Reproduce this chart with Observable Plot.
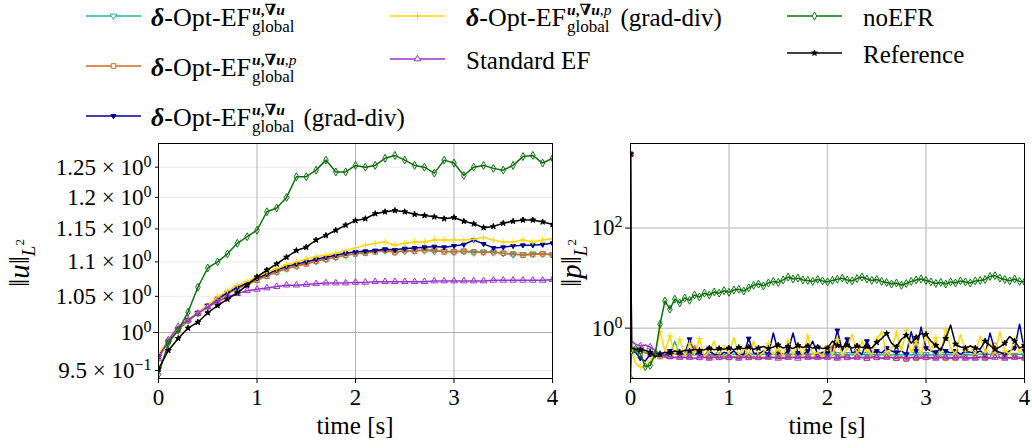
<!DOCTYPE html>
<html><head><meta charset="utf-8">
<script src="https://cdn.jsdelivr.net/npm/d3@7"></script>
<script src="https://cdn.jsdelivr.net/npm/@observablehq/plot@0.6"></script>
<style>
html,body{margin:0;padding:0;background:#fff;}
body{width:1032px;height:448px;overflow:hidden;position:relative;font-family:"Liberation Serif",serif;}
#legend{position:absolute;left:0;top:0;width:1032px;height:142px;z-index:2;}
#left{position:absolute;left:0;top:135px;z-index:1;}
#right{position:absolute;left:560px;top:135px;z-index:1;}
</style></head>
<body>
<div id="legend"></div>
<div id="left"></div>
<div id="right"></div>
<script>
// ---------- data ----------
const T = [0,0.1,0.2,0.3,0.4,0.5,0.6,0.7,0.8,0.9,1,1.1,1.2,1.3,1.4,1.5,1.6,1.7,1.8,1.9,2,2.1,2.2,2.3,2.4,2.5,2.6,2.7,2.8,2.9,3,3.1,3.2,3.3,3.4,3.5,3.6,3.7,3.8,3.9,4];

const TP = [0,0.01,
0.05,0.1,0.15,0.2,0.25,0.3,0.35,0.4,0.45,0.5,
0.55,0.6,0.65,0.7,0.75,0.8,0.85,0.9,0.95,1,
1.05,1.1,1.15,1.2,1.25,1.3,1.35,1.4,1.45,1.5,
1.55,1.6,1.65,1.7,1.75,1.8,1.85,1.9,1.95,2,
2.05,2.1,2.15,2.2,2.25,2.3,2.35,2.4,2.45,2.5,
2.55,2.6,2.65,2.7,2.75,2.8,2.85,2.9,2.95,3,
3.05,3.1,3.15,3.2,3.25,3.3,3.35,3.4,3.45,3.5,
3.55,3.6,3.65,3.7,3.75,3.8,3.85,3.9,3.95,4];

// ||u||_{L2}
const uOptU = [0.968,0.988,1.004,1.016,1.026,1.036,1.045,1.054,1.062,1.068,
1.074,1.080,1.085,1.090,1.094,1.098,1.101,1.104,1.107,1.110,
1.112,1.114,1.116,1.117,1.115,1.116,1.117,1.117,1.116,1.116,
1.115,1.116,1.114,1.115,1.114,1.113,1.111,1.111,1.112,1.112,1.111];
const uOptUP = [0.968,0.988,1.004,1.016,1.026,1.036,1.045,1.054,1.061,1.067,
1.073,1.079,1.085,1.090,1.094,1.097,1.101,1.104,1.107,1.110,
1.112,1.113,1.115,1.117,1.114,1.117,1.116,1.118,1.117,1.115,
1.115,1.116,1.115,1.114,1.115,1.113,1.112,1.110,1.111,1.112,1.110];
const uOptUgd = [0.968,0.988,1.005,1.017,1.027,1.037,1.047,1.055,1.063,1.069,
1.076,1.082,1.088,1.093,1.097,1.100,1.104,1.107,1.110,1.113,
1.115,1.116,1.117,1.119,1.118,1.120,1.121,1.122,1.123,1.122,
1.124,1.126,1.133,1.127,1.121,1.122,1.124,1.125,1.125,1.126,1.128];
const uOptUPgd = [0.972,0.990,1.006,1.017,1.027,1.037,1.049,1.058,1.066,1.071,
1.078,1.085,1.090,1.096,1.100,1.104,1.108,1.110,1.113,1.117,
1.121,1.125,1.128,1.130,1.125,1.128,1.130,1.130,1.133,1.133,
1.133,1.133,1.134,1.137,1.133,1.130,1.130,1.133,1.130,1.133,1.135];
const uStd = [0.965,0.990,1.008,1.017,1.026,1.035,1.043,1.049,1.054,1.058,
1.060,1.062,1.064,1.066,1.066,1.067,1.068,1.069,1.069,1.069,
1.070,1.070,1.071,1.071,1.071,1.071,1.071,1.071,1.072,1.072,
1.072,1.072,1.072,1.072,1.073,1.073,1.073,1.073,1.073,1.073,1.074];
const uNoEFR = [0.945,0.986,1.003,1.028,1.063,1.091,1.100,1.112,1.128,1.138,
1.148,1.177,1.183,1.200,1.234,1.234,1.245,1.262,1.242,1.242,
1.253,1.250,1.253,1.265,1.270,1.262,1.253,1.250,1.240,1.262,
1.257,1.236,1.250,1.253,1.248,1.245,1.253,1.268,1.270,1.257,1.265];
const uRef = [0.952,0.976,0.992,1.006,1.014,1.027,1.037,1.046,1.055,1.066,
1.078,1.088,1.097,1.107,1.117,1.122,1.133,1.140,1.148,1.156,
1.163,1.166,1.174,1.177,1.179,1.177,1.173,1.171,1.169,1.166,
1.168,1.162,1.158,1.152,1.154,1.159,1.162,1.164,1.164,1.161,1.157];

// ||p||_{L2}
const pOptU = [3000,0.42,
0.40,0.36,0.33,0.31,0.30,0.29,0.30,0.29,0.55,0.30,
0.29,0.30,0.29,0.31,0.29,0.30,0.29,0.30,0.29,0.30,
0.30,0.29,0.31,0.29,0.30,0.29,0.30,0.29,0.30,0.29,
0.30,0.29,0.30,0.29,0.31,0.29,0.30,0.29,0.30,0.29,
0.29,0.30,0.29,0.30,0.29,0.30,0.29,0.30,0.29,0.30,
0.29,0.30,0.29,0.30,0.29,0.30,0.29,0.30,0.29,0.30,
0.29,0.30,0.29,0.30,0.29,0.30,0.29,0.30,0.29,0.30,
0.30,0.29,0.30,0.29,0.30,0.29,0.30,0.29,0.30,0.29];
const pOptUP = [3000,0.40,
0.38,0.35,0.32,0.30,0.28,0.27,0.26,0.27,0.26,0.27,
0.26,0.27,0.45,0.26,0.27,0.26,0.28,0.26,0.27,0.26,
0.27,0.26,0.28,0.26,0.27,0.26,0.26,0.27,0.26,0.27,
0.26,0.27,0.26,0.28,0.26,0.27,0.26,0.27,0.26,0.27,
0.45,0.26,0.27,0.26,0.25,0.27,0.26,0.25,0.27,0.26,
0.25,0.27,0.26,0.25,0.27,0.24,0.26,0.25,0.27,0.26,
0.25,0.26,0.27,0.25,0.26,0.25,0.27,0.26,0.25,0.26,
0.27,0.25,0.26,0.45,0.25,0.26,0.25,0.27,0.26,0.25];
const pOptUgd = [3000,0.35,
0.33,0.25,0.22,0.30,0.32,0.30,0.28,0.35,0.30,0.32,
0.30,0.60,0.30,0.32,0.28,0.35,0.30,0.28,0.33,0.30,
0.35,0.28,0.30,0.62,0.32,0.30,0.35,0.30,0.80,0.33,
0.30,0.35,0.80,0.32,0.30,0.35,0.55,0.30,0.33,0.32,
0.35,0.90,0.35,0.60,0.32,0.35,0.30,0.55,0.32,0.35,
0.32,0.40,0.35,0.33,0.35,0.30,0.85,0.35,1.05,0.40,
0.35,0.33,0.40,0.35,0.32,0.35,0.30,0.35,0.33,0.32,
0.35,0.30,0.80,0.35,0.33,0.30,0.35,0.40,1.20,0.35];
const pOptUPgd = [3000,0.45,
0.20,0.17,0.17,0.22,0.30,0.85,0.35,0.70,0.30,0.60,
0.28,0.50,0.30,0.62,0.27,0.35,0.55,0.28,0.45,0.30,
0.65,0.28,0.40,0.30,0.55,0.28,0.33,0.50,0.30,0.38,
0.28,0.55,0.30,0.45,0.28,0.70,0.30,0.32,0.28,0.45,
0.30,0.60,0.28,0.40,0.75,0.30,0.55,0.35,0.30,0.60,
0.85,0.30,0.40,0.80,0.35,0.90,0.32,0.55,0.30,0.85,
0.35,0.65,0.30,0.95,0.40,0.30,0.75,0.35,0.45,0.30,
0.70,0.32,0.50,0.30,0.85,0.35,0.30,0.60,0.32,0.50];
const pStd = [3000,0.55,
0.48,0.44,0.46,0.42,0.36,0.30,0.28,0.27,0.26,0.26,
0.26,0.26,0.25,0.26,0.26,0.25,0.26,0.26,0.25,0.26,
0.26,0.25,0.26,0.26,0.25,0.26,0.25,0.26,0.26,0.25,
0.25,0.26,0.26,0.25,0.26,0.26,0.25,0.26,0.25,0.26,
0.26,0.25,0.26,0.26,0.25,0.26,0.26,0.25,0.26,0.26,
0.25,0.26,0.26,0.25,0.26,0.25,0.26,0.26,0.25,0.26,
0.26,0.25,0.26,0.26,0.25,0.26,0.26,0.25,0.26,0.25,
0.26,0.26,0.25,0.26,0.26,0.25,0.26,0.26,0.25,0.26];
const pNoEFR = [0.10,0.30,
0.38,0.30,0.17,0.18,0.30,1.2,3.5,2.4,3.8,3.2,
4.0,3.6,4.6,4.2,5.0,4.6,5.3,5.0,5.6,5.2,
5.8,6.0,5.5,6.4,7.2,7.6,7.0,8.0,8.6,8.2,
9.2,10.5,9.6,10.0,9.2,9.0,8.6,9.4,8.8,8.4,
9.0,9.5,10.0,9.2,8.8,9.8,10.5,9.6,9.0,9.4,
8.6,8.2,7.6,8.0,7.2,7.8,8.6,9.2,9.6,9.0,
8.4,7.8,8.2,7.6,8.4,8.0,8.8,8.4,8.0,8.8,
9.0,9.4,10.8,11.2,10.0,9.4,8.8,9.6,8.6,8.4];
const pRef = [3000,0.40,
0.38,0.37,0.36,0.33,0.27,0.30,0.33,0.32,0.35,0.33,
0.36,0.35,0.38,0.36,0.37,0.40,0.37,0.39,0.38,0.40,
0.37,0.41,0.39,0.42,0.38,0.40,0.43,0.39,0.42,0.46,
0.40,0.43,0.39,0.45,0.41,0.44,0.40,0.42,0.39,0.40,
0.55,0.45,0.42,0.46,0.40,0.44,0.41,0.43,0.40,0.52,
0.62,0.78,0.50,0.42,0.60,0.72,0.50,0.65,0.78,0.75,
0.55,0.45,0.36,0.62,1.15,0.48,0.42,0.40,0.44,0.40,
0.38,0.55,0.45,0.38,0.42,0.50,0.68,0.55,0.40,0.45];

const uSeries = [uOptU, uOptUP, uOptUgd, uOptUPgd, uStd, uNoEFR, uRef];
const pSeries = [pOptU, pOptUP, pOptUgd, pOptUPgd, pStd, pNoEFR, pRef];

const seriesColors = ["#20b2aa","#d2691e","#00008b","#ffd700","#9932cc","#0b700b","#000000"];
const seriesSymbols = ["triangle","square","triangle","plus","triangle","diamond","star"];
const seriesRotate = [180,0,180,0,0,0,0];
const seriesFilled = [false,false,true,false,false,false,true];
const seriesR = [2.4,2.6,1.8,2.2,2.4,2.4,1.8];

const uTickVals = [0.95,1,1.05,1.1,1.15,1.2,1.25];
const uTickLabels = ["9.5 × 10^−1","10^0","1.05 × 10^0","1.1 × 10^0","1.15 × 10^0","1.2 × 10^0","1.25 × 10^0"];
const pTickVals = [1,100];
const pTickLabels = ["10^0","10^2"];
const timeTicks = [0,1,2,3,4];
const gridTimes = [1,2,3];

// legend layout
const legendCols = [[0,1,2],[3,4],[5,6]];
const legendColX = [86,390,787];
const legendTextX = [151,466,863];
const legendRowY = [[16,66,116],[16,59],[16,53]];

const FONT = "'Liberation Serif', 'DejaVu Serif', serif";

// ---------- helpers ----------
function supify(svg){
  d3.select(svg).selectAll("text").each(function(){
    const s = this.textContent;
    if (s.includes("^")) {
      const [a,b] = s.split("^");
      const sel = d3.select(this);
      sel.text(a);
      sel.append("tspan").attr("dy","-0.5em").attr("font-size","16px").text(b);
    }
  });
}

function seriesMarks(times, series, markerFilter){
  const marks = [];
  series.forEach((vals, si) => {
    const data = vals.map((v,i)=>({t: times[i], v, i}));
    marks.push(Plot.line(data, {x:"t", y:"v", stroke: seriesColors[si], strokeWidth: 1.5, clip: true}));
    marks.push(Plot.dot(data.filter(d => markerFilter(d, si)), {
      x:"t", y:"v", symbol: seriesSymbols[si], r: seriesR[si], rotate: seriesRotate[si],
      stroke: seriesColors[si], fill: seriesFilled[si] ? seriesColors[si] : "none", strokeWidth: 1, clip: true
    }));
  });
  return marks;
}

// ---------- left panel ----------
const leftPlot = Plot.plot({
  width: 560, height: 313,
  marginLeft: 158, marginRight: 8, marginTop: 8, marginBottom: 70,
  style: {fontFamily: FONT, fontSize: "23px", color: "black", background: "transparent", overflow: "visible"},
  x: {domain: [0,4]},
  y: {type: "log", domain: [0.9398, 1.2906]},
  marks: [
    Plot.ruleY(uTickVals.filter(v => v !== 1), {stroke: "#ebebeb", strokeWidth: 1}),
    Plot.ruleY([1], {stroke: "#b0b0b0", strokeWidth: 1}),
    Plot.ruleX(gridTimes, {stroke: "#b0b0b0", strokeWidth: 1}),
    ...seriesMarks(T, uSeries, () => true),
    Plot.frame({stroke: "black", strokeWidth: 1}),
    Plot.axisX(timeTicks, {tickSize: 5, tickPadding: 5, fontSize: 23, label: null, tickFormat: d => String(d)}),
    Plot.axisY([1], {tickSize: 5, tickPadding: 2, fontSize: 23, label: null, tickFormat: d => uTickLabels[uTickVals.indexOf(d)]}),
    Plot.axisY(uTickVals.filter(v => v !== 1), {tickSize: 3, tickPadding: 4, fontSize: 23, label: null, tickFormat: d => uTickLabels[uTickVals.indexOf(d)]})
  ]
});
document.getElementById("left").appendChild(leftPlot);
supify(leftPlot);

// ---------- right panel ----------
const rightPlot = Plot.plot({
  width: 472, height: 313,
  marginLeft: 70, marginRight: 8, marginTop: 8, marginBottom: 70,
  style: {fontFamily: FONT, fontSize: "23px", color: "black", background: "transparent", overflow: "visible"},
  x: {domain: [0,4]},
  y: {type: "log", domain: [0.0986, 4900]},
  marks: [
    Plot.ruleY(pTickVals, {stroke: "#cccccc", strokeWidth: 1.5}),
    Plot.ruleX(gridTimes, {stroke: "#cccccc", strokeWidth: 1.5}),
    ...seriesMarks(TP, pSeries, (d, si) => si === 5 ? d.i !== 1 : (d.i === 0 || (d.i >= 2 && d.i % 2 === 1))),
    Plot.frame({stroke: "black", strokeWidth: 1}),
    Plot.axisX(timeTicks, {tickSize: 5, tickPadding: 5, fontSize: 23, label: null, tickFormat: d => String(d)}),
    Plot.axisY(pTickVals, {tickSize: 5, tickPadding: 3, fontSize: 23, label: null, tickFormat: d => pTickLabels[pTickVals.indexOf(d)]})
  ]
});
document.getElementById("right").appendChild(rightPlot);
supify(rightPlot);

// ---------- axis titles ----------
function addXTitle(svg, cx){
  d3.select(svg).append("text").attr("x", cx).attr("y", 299).attr("text-anchor","middle")
    .attr("font-family", FONT).attr("font-size", 25).attr("fill","black").text("time [s]");
}
function addYTitle(svg, x, letter){
  const t = d3.select(svg).append("text").attr("transform", `translate(${x},128) rotate(-90)`)
    .attr("text-anchor","middle").attr("font-family", FONT).attr("font-size", 29).attr("fill","black");
  t.append("tspan").text("‖");
  t.append("tspan").attr("font-style","italic").text(letter);
  t.append("tspan").text("‖");
  t.append("tspan").attr("font-style","italic").attr("font-size",19).attr("dy",6).text("L");
  t.append("tspan").attr("font-size",13).attr("dy",-11).text("2");
}
addXTitle(leftPlot, 355);
addYTitle(leftPlot, 29, "u");
addXTitle(rightPlot, 267);
addYTitle(rightPlot, 21, "p");

// ---------- legend ----------
const labelSpecs = [
  {sup: [["u",1,1],[",",1,0],["∇",1,0],["u",1,1]], suffix: ""},
  {sup: [["u",1,1],[",",1,0],["∇",1,0],["u",1,1],[",",0,0],["p",0,1]], suffix: ""},
  {sup: [["u",1,1],[",",1,0],["∇",1,0],["u",1,1]], suffix: "(grad-div)"},
  {sup: [["u",1,1],[",",1,0],["∇",1,0],["u",1,1],[",",0,0],["p",0,1]], suffix: "(grad-div)"},
  {plain: "Standard EF"},
  {plain: "noEFR"},
  {plain: "Reference"}
];

const lg = d3.select("#legend").append("svg").attr("width",1032).attr("height",142)
  .attr("font-family", FONT).attr("fill","black").style("overflow","visible");

function drawLabel(spec, x, y){
  if (spec.plain) {
    lg.append("text").attr("x",x).attr("y",y).attr("font-size",25).text(spec.plain);
    return;
  }
  const main = lg.append("text").attr("x",x).attr("y",y).attr("font-size",26);
  main.append("tspan").attr("font-weight","bold").attr("font-style","italic").text("δ");
  main.append("tspan").text("-Opt-EF");
  const L1 = main.node().getComputedTextLength();
  const sx = x + L1 + 1;
  const sup = lg.append("text").attr("x",sx).attr("y",y-11).attr("font-size",15.5);
  spec.sup.forEach(([s,b,it]) => {
    const ts = sup.append("tspan").text(s);
    if (b) ts.attr("font-weight","bold");
    if (it) ts.attr("font-style","italic");
  });
  const sub = lg.append("text").attr("x",sx).attr("y",y+6).attr("font-size",17).text("global");
  const L2 = sup.node().getComputedTextLength();
  const L3 = sub.node().getComputedTextLength();
  if (spec.suffix) {
    lg.append("text").attr("x", sx + Math.max(L2,L3) + 9).attr("y",y).attr("font-size",25).text(spec.suffix);
  }
}

legendCols.forEach((col, ci) => {
  col.forEach((si, ri) => {
    const lx = legendColX[ci], ly = legendRowY[ci][ri];
    lg.append("line").attr("x1",lx).attr("x2",lx+55).attr("y1",ly).attr("y2",ly)
      .attr("stroke",seriesColors[si]).attr("stroke-width",1.5);
    const symMap = {triangle: d3.symbolTriangle, square: d3.symbolSquare, plus: d3.symbolPlus, diamond: d3.symbolDiamond, star: d3.symbolStar};
    const size = Math.PI * seriesR[si] * seriesR[si];
    lg.append("path").attr("d", d3.symbol(symMap[seriesSymbols[si]], size)())
      .attr("transform", `translate(${lx+27.5},${ly}) rotate(${seriesRotate[si]})`)
      .attr("stroke", seriesColors[si]).attr("stroke-width",1)
      .attr("fill", seriesFilled[si] ? seriesColors[si] : "white");
    drawLabel(labelSpecs[si], legendTextX[ci], ly + 10);
  });
});
</script>
</body></html>
